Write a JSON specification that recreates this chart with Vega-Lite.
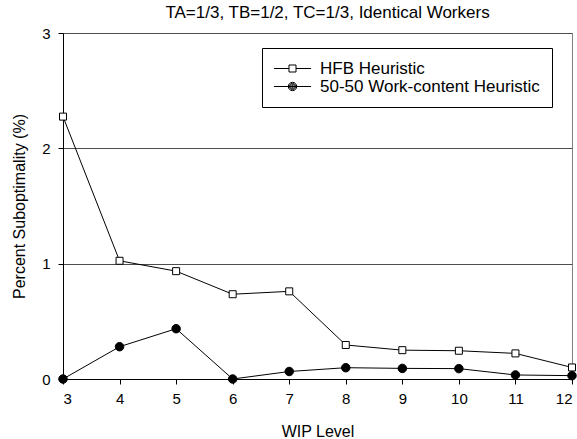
{
  "$schema": "https://vega.github.io/schema/vega-lite/v6.json",
  "width": 509,
  "height": 346,
  "padding": {"left": 11, "top": 4, "right": 5, "bottom": 0},
  "background": "white",
  "title": {"text": "TA=1/3, TB=1/2, TC=1/3, Identical Workers", "font": "Liberation Sans", "fontSize": 17, "fontWeight": "normal", "color": "black", "offset": 4, "dx": 10},
  "config": {
    "font": "Liberation Sans",
    "view": {"stroke": "#808080", "strokeWidth": 1},
    "axis": {"labelFont": "Liberation Sans", "titleFont": "Liberation Sans", "labelFontSize": 15, "titleFontSize": 16, "titleFontWeight": "normal", "labelColor": "black", "titleColor": "black", "domainColor": "black", "tickColor": "black", "tickSize": 5}
  },
  "data": {"values": [
    {"wip": 3, "series": "HFB Heuristic", "value": 2.275},
    {"wip": 4, "series": "HFB Heuristic", "value": 1.025},
    {"wip": 5, "series": "HFB Heuristic", "value": 0.935},
    {"wip": 6, "series": "HFB Heuristic", "value": 0.735},
    {"wip": 7, "series": "HFB Heuristic", "value": 0.76},
    {"wip": 8, "series": "HFB Heuristic", "value": 0.295},
    {"wip": 9, "series": "HFB Heuristic", "value": 0.25},
    {"wip": 10, "series": "HFB Heuristic", "value": 0.245},
    {"wip": 11, "series": "HFB Heuristic", "value": 0.222},
    {"wip": 12, "series": "HFB Heuristic", "value": 0.1},
    {"wip": 3, "series": "50-50 Work-content Heuristic", "value": 0.0},
    {"wip": 4, "series": "50-50 Work-content Heuristic", "value": 0.28},
    {"wip": 5, "series": "50-50 Work-content Heuristic", "value": 0.436},
    {"wip": 6, "series": "50-50 Work-content Heuristic", "value": 0.0},
    {"wip": 7, "series": "50-50 Work-content Heuristic", "value": 0.065},
    {"wip": 8, "series": "50-50 Work-content Heuristic", "value": 0.098},
    {"wip": 9, "series": "50-50 Work-content Heuristic", "value": 0.092},
    {"wip": 10, "series": "50-50 Work-content Heuristic", "value": 0.09},
    {"wip": 11, "series": "50-50 Work-content Heuristic", "value": 0.035},
    {"wip": 12, "series": "50-50 Work-content Heuristic", "value": 0.029}
  ]},
  "encoding": {
    "x": {"field": "wip", "type": "quantitative", "title": "WIP Level",
      "scale": {"domain": [3, 12], "nice": false, "zero": false},
      "axis": {"values": [3,4,5,6,7,8,9,10,11,12], "grid": false, "labelPadding": 7, "titlePadding": 17}},
    "y": {"field": "value", "type": "quantitative", "title": "Percent Suboptimality (%)",
      "scale": {"domain": [0, 3], "nice": false},
      "axis": {"values": [0,1,2,3], "grid": true, "gridColor": "#4d4d4d", "gridWidth": 1, "gridOpacity": 1, "labelPadding": 8, "titlePadding": 14}}
  },
  "resolve": {"scale": {"shape": "independent"}, "legend": {"shape": "independent"}},
  "layer": [
    {
      "mark": {"type": "line", "color": "black", "strokeWidth": 1, "clip": false},
      "encoding": {"detail": {"field": "series"}}
    },
    {
      "mark": {"type": "point", "stroke": "black", "strokeWidth": 1, "opacity": 1, "filled": false, "clip": false},
      "encoding": {
        "shape": {"field": "series", "type": "nominal", "legend": null,
          "scale": {"domain": ["HFB Heuristic", "50-50 Work-content Heuristic"], "range": ["square", "circle"]}},
        "fill": {"field": "series", "type": "nominal", "legend": null,
          "scale": {"domain": ["HFB Heuristic", "50-50 Work-content Heuristic"], "range": ["white", "black"]}},
        "size": {"condition": {"test": "datum.series === 'HFB Heuristic'", "value": 49}, "value": 72}
      }
    },
    {
      "mark": {"type": "point", "stroke": "black", "strokeWidth": 1, "opacity": 0, "filled": false, "clip": false},
      "encoding": {
        "shape": {"field": "series", "type": "nominal", "title": null,
          "scale": {"domain": ["HFB Heuristic", "50-50 Work-content Heuristic"],
            "range": [
              "M-5.3,0H-1M1,0H5.3M-1,-1H1V1H-1Z",
              "M-5.3,0H5.3M-1.2,0A1.2,1.2,0,1,0,1.2,0A1.2,1.2,0,1,0,-1.2,0ZM-0.9,0A0.9,0.9,0,1,0,0.9,0A0.9,0.9,0,1,0,-0.9,0ZM-0.6,0A0.6,0.6,0,1,0,0.6,0A0.6,0.6,0,1,0,-0.6,0ZM-0.3,0A0.3,0.3,0,1,0,0.3,0A0.3,0.3,0,1,0,-0.3,0Z"
            ]},
          "legend": {
            "orient": "none", "legendX": 199, "legendY": 15,
            "strokeColor": "black", "fillColor": "white", "padding": 12, "rowPadding": 0,
            "labelFont": "Liberation Sans", "labelFontSize": 17, "labelColor": "black", "labelLimit": 400, "labelOffset": 19,
            "symbolSize": 49, "symbolOffset": 10, "symbolStrokeColor": "black", "symbolStrokeWidth": 1,
            "symbolFillColor": "white", "symbolOpacity": 1
          }}
      }
    }
  ]
}
